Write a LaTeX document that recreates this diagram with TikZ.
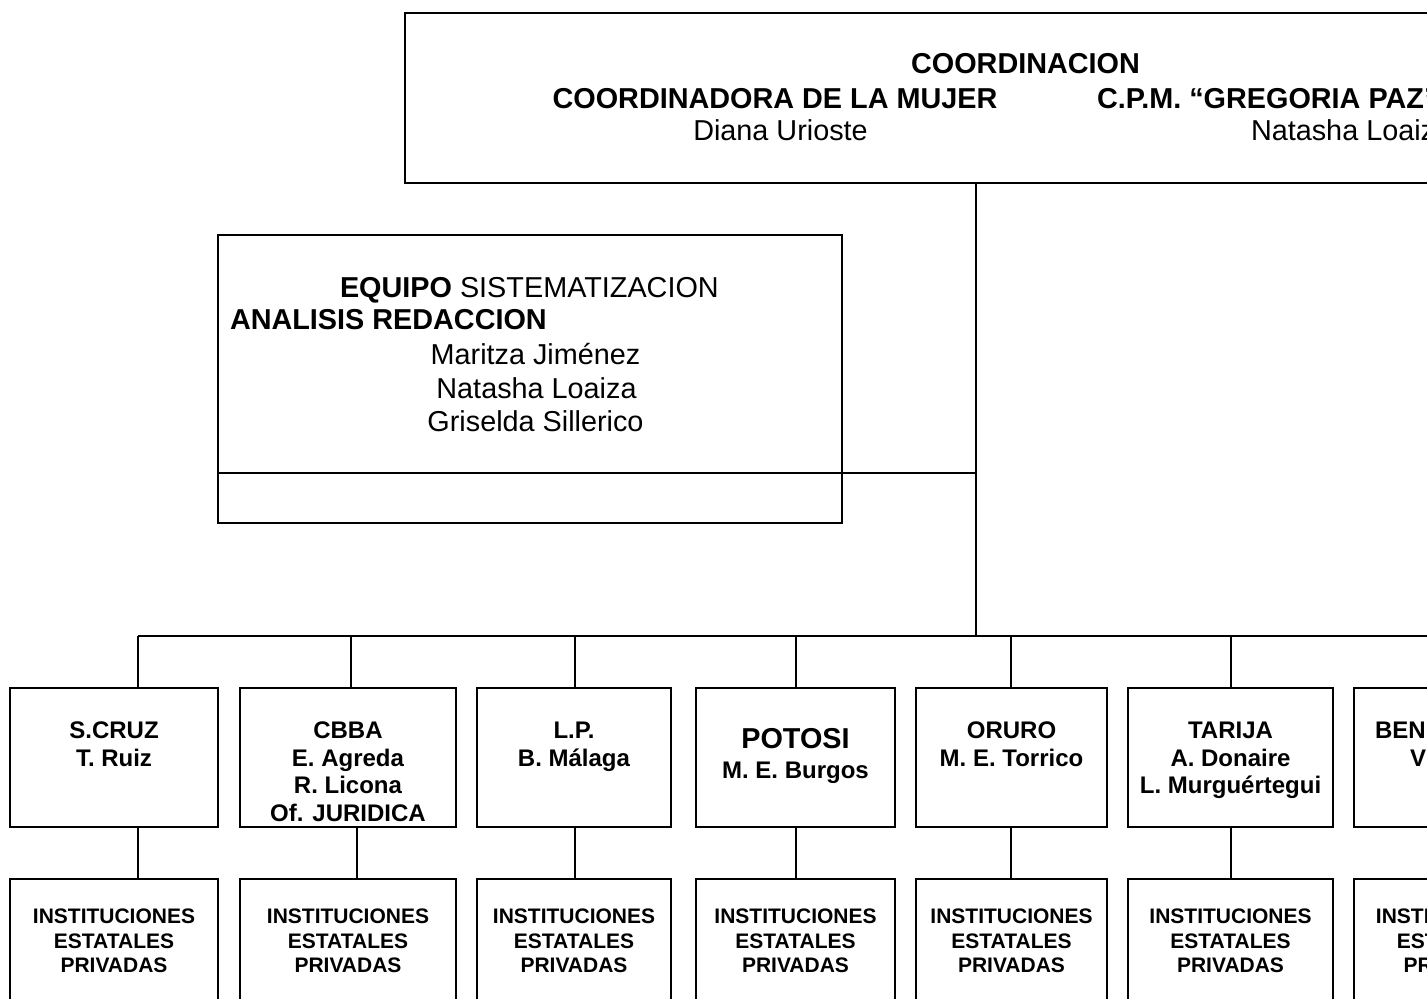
\documentclass[tikz,border=0pt]{standalone}
\usepackage{fontspec}
\setmainfont{Liberation Sans}
\usepackage{tikz}
\usetikzlibrary{positioning}

\tikzset{
  box/.style={draw, anchor=north west, inner sep=0pt, outer sep=0pt},
  bigtxt/.style={inner sep=0pt, outer sep=0pt, font=\fontsize{14.4}{16.75}\selectfont},
  bigbold/.style={inner sep=0pt, outer sep=0pt, font=\bfseries\fontsize{14.4}{16.75}\selectfont},
  regtxt/.style={inner sep=0pt, outer sep=0pt, align=center, font=\bfseries\fontsize{12}{13.75}\selectfont},
  insttxt/.style={inner sep=0pt, outer sep=0pt, align=center, font=\bfseries\fontsize{10.5}{12.25}\selectfont}
}

\begin{document}
\begin{tikzpicture}[x=0.5pt, y=-0.5pt, line width=1pt]
    \useasboundingbox (0,0) rectangle (1427,998);
    \clip (0,0) rectangle (1427,998);

    % coordinacion
    \node[box, minimum width=622pt, minimum height=85pt] (coord) at (405,13) {};
    \node[bigbold, anchor=base] (coordT) at (1025.5,73) {COORDINACION};
    \node[bigbold, anchor=base] (coordL) at (775,108) {COORDINADORA DE LA MUJER};
    \node[bigbold, anchor=base west] (coordR) at (1097,108) {C.P.M. “GREGORIA PAZ”};
    \node[bigtxt, anchor=base] (coordLN) at (780.5,140) {Diana Urioste};
    \node[bigtxt, anchor=base west] (coordRN) at (1251,140) {Natasha Loaiza};

    % equipo
    \node[box, minimum width=312pt, minimum height=119pt] (equipo) at (218,235) {};
    \node[box, minimum width=312pt, minimum height=25pt] (equipobar) at (218,473) {};
    \node[bigtxt, anchor=base west] (equipoT) at (340,297) {{\bfseries EQUIPO} SISTEMATIZACION};
    \node[bigbold, anchor=base west] (equipoS) at (230,329) {ANALISIS REDACCION};
    \node[bigtxt, anchor=base] (equipoN1) at (535.5,364) {Maritza Jiménez};
    \node[bigtxt, anchor=base] (equipoN2) at (536.5,398) {Natasha Loaiza};
    \node[bigtxt, anchor=base] (equipoN3) at (535.5,431) {Griselda Sillerico};

    % departamentos
    \node[box, minimum width=104pt, minimum height=69.5pt] (scruz) at (10,688) {};
    \node[box, minimum width=108pt, minimum height=69.5pt] (cbba) at (240,688) {};
    \node[box, minimum width=97pt, minimum height=69.5pt] (lp) at (477,688) {};
    \node[box, minimum width=99.5pt, minimum height=69.5pt] (potosi) at (696,688) {};
    \node[box, minimum width=95.5pt, minimum height=69.5pt] (oruro) at (916,688) {};
    \node[box, minimum width=102.5pt, minimum height=69.5pt] (tarija) at (1128,688) {};
    \node[box, minimum width=103pt, minimum height=69.5pt] (beni) at (1354,688) {};

    \node[regtxt, below=17pt of scruz.north] (scruzL) {S.CRUZ\\T. Ruiz};
    \node[regtxt, below=17pt of cbba.north] (cbbaL) {CBBA\\E. Agreda\\R. Licona\\Of. JURIDICA};
    \node[regtxt, below=17pt of lp.north] (lpL) {L.P.\\B. Málaga};
    \node[regtxt, font=\bfseries\fontsize{12}{15}\selectfont, below=20pt of potosi.north] (potosiL) {{\fontsize{14.4}{15}\selectfont POTOSI}\\M. E. Burgos};
    \node[regtxt, below=17pt of oruro.north] (oruroL) {ORURO\\M. E. Torrico};
    \node[regtxt, below=17pt of tarija.north] (tarijaL) {TARIJA\\A. Donaire\\L. Murguértegui};
    \node[regtxt, anchor=base west] (beniL) at (1375,738) {BENI};
    \node[regtxt, anchor=base west] (beniN) at (1410,766) {V};

    % instituciones
    \node[box, minimum width=104pt, minimum height=80pt] (scruzI) at (10,879) {};
    \node[box, minimum width=108pt, minimum height=80pt] (cbbaI) at (240,879) {};
    \node[box, minimum width=97pt, minimum height=80pt] (lpI) at (477,879) {};
    \node[box, minimum width=99.5pt, minimum height=80pt] (potosiI) at (696,879) {};
    \node[box, minimum width=95.5pt, minimum height=80pt] (oruroI) at (916,879) {};
    \node[box, minimum width=102.5pt, minimum height=80pt] (tarijaI) at (1128,879) {};
    \node[box, minimum width=103pt, minimum height=80pt] (beniI) at (1354,879) {};

    \node[insttxt, below=15pt of scruzI.north] (scruzIL) {INSTITUCIONES\\ESTATALES\\PRIVADAS};
    \node[insttxt, below=15pt of cbbaI.north] (cbbaIL) {INSTITUCIONES\\ESTATALES\\PRIVADAS};
    \node[insttxt, below=15pt of lpI.north] (lpIL) {INSTITUCIONES\\ESTATALES\\PRIVADAS};
    \node[insttxt, below=15pt of potosiI.north] (potosiIL) {INSTITUCIONES\\ESTATALES\\PRIVADAS};
    \node[insttxt, below=15pt of oruroI.north] (oruroIL) {INSTITUCIONES\\ESTATALES\\PRIVADAS};
    \node[insttxt, below=15pt of tarijaI.north] (tarijaIL) {INSTITUCIONES\\ESTATALES\\PRIVADAS};
    \node[insttxt, below=15pt of beniI.north] (beniIL) {INSTITUCIONES\\ESTATALES\\PRIVADAS};

    % lineas
    \coordinate (hub) at (976,636);
    \coordinate (busL) at (138,636);
    \coordinate (busR) at (1440,636);
    \coordinate (cbbaUp) at (351,636);
    \coordinate (cbbaDn) at (357,879);
    \coordinate (lpUp) at (575,636);
    \coordinate (potosiUp) at (796,636);
    \coordinate (oruroUp) at (1011,636);
    \coordinate (tarijaUp) at (1231,636);

    \draw (coord.south -| hub) -- (hub);
    \draw (equipobar.north east) -- (equipobar.north east -| hub);
    \draw (busL) -- (busR);

    \draw (busL) -- (busL |- scruz.north);
    \draw (cbbaUp) -- (cbbaUp |- cbba.north);
    \draw (lpUp) -- (lpUp |- lp.north);
    \draw (potosiUp) -- (potosiUp |- potosi.north);
    \draw (oruroUp) -- (oruroUp |- oruro.north);
    \draw (tarijaUp) -- (tarijaUp |- tarija.north);

    \draw (busL |- scruz.south) -- (busL |- scruzI.north);
    \draw (cbbaDn |- cbba.south) -- (cbbaDn);
    \draw (lpUp |- lp.south) -- (lpUp |- lpI.north);
    \draw (potosiUp |- potosi.south) -- (potosiUp |- potosiI.north);
    \draw (oruroUp |- oruro.south) -- (oruroUp |- oruroI.north);
    \draw (tarijaUp |- tarija.south) -- (tarijaUp |- tarijaI.north);

\end{tikzpicture}
\end{document}
